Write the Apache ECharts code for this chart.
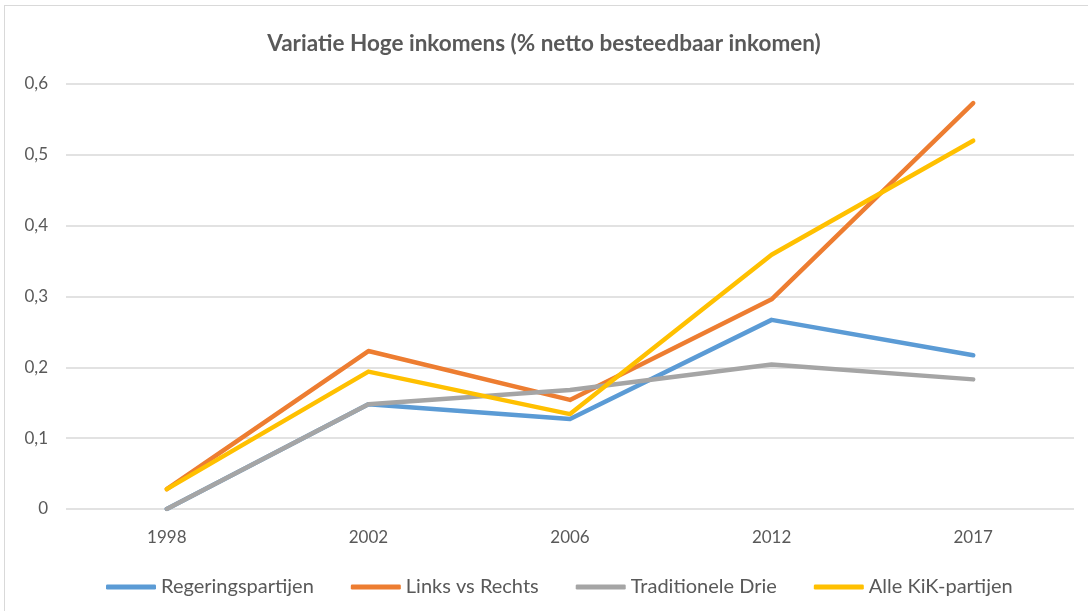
<!DOCTYPE html>
<html>
<head>
<meta charset="utf-8">
<script src="https://cdn.jsdelivr.net/npm/echarts@6/dist/echarts.min.js"></script>
<style>
    html, body { margin: 0; padding: 0; background: #fff; }
    .frame {
        position: absolute; left: 4px; top: 5px; right: 0; bottom: 0;
        border-left: 1px solid #d9d9d9; border-top: 1px solid #d9d9d9;
    }
    #chart { position: absolute; left: 0; top: 0; width: 1088px; height: 611px; }
</style>
</head>
<body>
<div class="frame"></div>
<div id="chart"></div>
<script>
    // data
    var years = ['1998', '2002', '2006', '2012', '2017'];
    var regering = [0, 0.148, 0.127, 0.267, 0.217];
    var linksRechts = [0.028, 0.223, 0.154, 0.296, 0.573];
    var traditioneel = [0, 0.148, 0.168, 0.204, 0.183];
    var alleKik = [0.028, 0.194, 0.134, 0.359, 0.520];

    var textColor = '#595959';
    var font = 'Lato';

    var myChart = echarts.init(document.getElementById('chart'));

    function lineSeries(name, data, color) {
        return {
            name: name,
            type: 'line',
            data: data,
            symbol: 'none',
            lineStyle: { width: 4.5, color: color, cap: 'round', join: 'round' },
            itemStyle: { color: color },
            z: 2
        };
    }

    var option = {
        animation: false,
        title: {
            text: 'Variatie Hoge inkomens (% netto besteedbaar inkomen)',
            left: 'center',
            top: 27,
            textStyle: { color: textColor, fontFamily: font, fontSize: 22.5, fontWeight: 'bold' }
        },
        legend: {
            left: 101,
            top: 572,
            itemWidth: 50,
            itemHeight: 5,
            itemGap: 37,
            icon: 'roundRect',
            textStyle: { color: textColor, fontFamily: font, fontSize: 20 },
            data: ['Regeringspartijen', 'Links vs Rechts', 'Traditionele Drie', 'Alle KiK-partijen']
        },
        grid: { left: 66, right: 14, top: 84, bottom: 102 },
        xAxis: {
            type: 'category',
            data: years,
            boundaryGap: true,
            axisLine: { show: false },
            axisTick: { show: false },
            axisLabel: { color: textColor, fontFamily: font, fontSize: 17, margin: 20 }
        },
        yAxis: {
            type: 'value',
            min: 0,
            max: 0.6,
            interval: 0.1,
            axisLine: { show: false },
            axisTick: { show: false },
            splitLine: { lineStyle: { color: '#d9d9d9', width: 1.5 } },
            axisLabel: {
                color: textColor, fontFamily: font, fontSize: 17, margin: 18,
                formatter: function (v) { return v === 0 ? '0' : v.toFixed(1).replace('.', ','); }
            }
        },
        series: [
            lineSeries('Regeringspartijen', regering, '#5B9BD5'),
            lineSeries('Links vs Rechts', linksRechts, '#ED7D31'),
            lineSeries('Traditionele Drie', traditioneel, '#A5A5A5'),
            lineSeries('Alle KiK-partijen', alleKik, '#FFC000')
        ]
    };

    myChart.setOption(option);
</script>
</body>
</html>
